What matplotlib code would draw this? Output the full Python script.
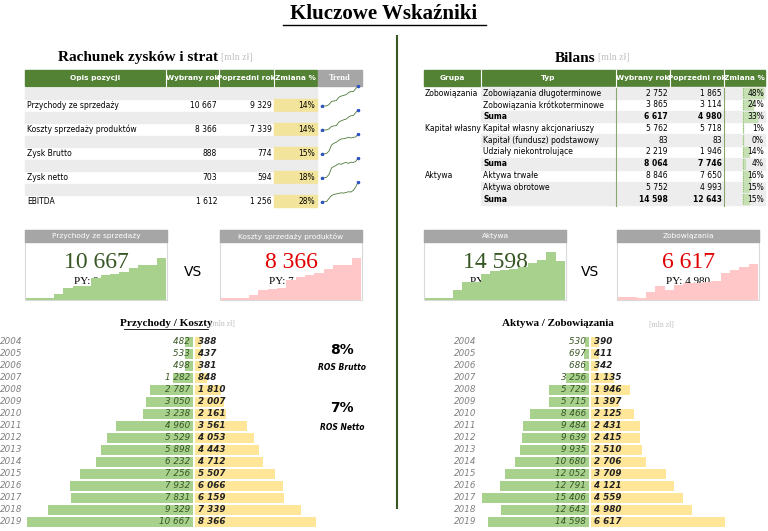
import matplotlib.pyplot as plt
from matplotlib.patches import Rectangle
import numpy as np

# ---- data ----
years = list(range(2004, 2020))
przychody = [482, 533, 498, 1282, 2787, 3050, 3238, 4960, 5529, 5898, 6232, 7256, 7932, 7831, 9329, 10667]
koszty = [388, 437, 381, 848, 1810, 2007, 2161, 3561, 4053, 4443, 4712, 5507, 6066, 6159, 7339, 8366]
aktywa = [530, 697, 686, 3256, 5729, 5715, 8466, 9484, 9639, 9935, 10680, 12052, 12791, 15406, 12643, 14598]
zobow = [390, 411, 342, 1135, 1946, 1397, 2125, 2431, 2415, 2510, 2706, 3709, 4121, 4559, 4980, 6617]
# estimated trends for sparklines
zysk_brutto = [90, 96, 117, 210, 450, 520, 560, 640, 690, 700, 720, 760, 730, 750, 774, 888]
zysk_netto = [60, 70, 85, 180, 380, 430, 470, 520, 500, 540, 560, 530, 570, 560, 594, 703]
ebitda = [150, 170, 190, 420, 620, 700, 740, 780, 820, 800, 850, 900, 880, 1000, 1256, 1612]

rzis_labels = ["Przychody ze sprzedaży", "Koszty sprzedaży produktów", "Zysk Brutto", "Zysk netto", "EBITDA"]
rzis_cur = ["10 667", "8 366", "888", "703", "1 612"]
rzis_prev = ["9 329", "7 339", "774", "594", "1 256"]
rzis_chg = [14, 14, 15, 18, 28]
rzis_trend = [przychody, koszty, zysk_brutto, zysk_netto, ebitda]

bil_group = ["Zobowiązania", "", "", "Kapitał własny", "", "", "", "Aktywa", "", ""]
bil_typ = ["Zobowiązania długoterminowe", "Zobowiązania krótkoterminowe", "Suma",
           "Kapitał własny akcjonariuszy", "Kapitał (fundusz) podstawowy", "Udziały niekontrolujące", "Suma",
           "Aktywa trwałe", "Aktywa obrotowe", "Suma"]
bil_cur = ["2 752", "3 865", "6 617", "5 762", "83", "2 219", "8 064", "8 846", "5 752", "14 598"]
bil_prev = ["1 865", "3 114", "4 980", "5 718", "83", "1 946", "7 746", "7 650", "4 993", "12 643"]
bil_chg = [48, 24, 33, 1, 0, 14, 4, 16, 15, 15]

W, H = 768, 531
fig = plt.figure(figsize=(7.68, 5.31), dpi=100)
cv = fig.add_axes([0, 0, 1, 1])
cv.set_xlim(0, W); cv.set_ylim(H, 0); cv.axis("off")

GREEN = "#548235"
SERIF = "Liberation Serif"


def ax_px(x0, y0, x1, y1):
    return fig.add_axes([x0 / W, 1 - y1 / H, (x1 - x0) / W, (y1 - y0) / H])


def txt(x, y, s, size=5.5, **kw):
    kw.setdefault("va", "center")
    cv.text(x, y, s, fontsize=size, **kw)


# title
txt(384, 14, "Kluczowe Wskaźniki", 15, ha="center", family=SERIF, weight="bold")
cv.plot([283, 486], [25, 25], color="black", lw=1)
cv.plot([397, 397], [36, 508], color="#385723", lw=1.5)

# headings
txt(218, 58, "Rachunek zysków i strat", 11, ha="right", family=SERIF, weight="bold")
txt(221, 58, "[mln zł]", 7, ha="left", family=SERIF, color="#c0c0c0")
txt(595, 58, "Bilans", 11, ha="right", family=SERIF, weight="bold")
txt(598, 58, "[mln zł]", 7, ha="left", family=SERIF, color="#c0c0c0")

# ---- RZiS table ----
cols = [25, 166, 219, 274, 317, 362]
heads = ["Opis pozycji", "Wybrany rok", "Poprzedni rok", "Zmiana %"]
cv.add_patch(Rectangle((25, 70), 292, 16, color=GREEN))
cv.add_patch(Rectangle((318, 70), 44, 16, color="#a6a6a6"))
for i, h in enumerate(heads):
    txt((cols[i] + cols[i + 1]) / 2, 78, h, 5.3, ha="center", color="white", weight="bold")
    if i > 0:
        cv.plot([cols[i], cols[i]], [70, 86], color="white", lw=0.8)
txt(340, 78, "Trend", 6, ha="center", color="white", weight="bold", family=SERIF)
for i in range(5):
    y = 105 + i * 24
    cv.add_patch(Rectangle((25, y - 17), 292, 11, color="#ececec"))
    txt(27, y, rzis_labels[i], 5.5)
    txt(217, y, rzis_cur[i], 5.5, ha="right")
    txt(272, y, rzis_prev[i], 5.5, ha="right")
    cv.add_patch(Rectangle((274, y - 6), 43, 12, color="#f3e49c"))
    txt(315, y, f"{rzis_chg[i]}%", 5.5, ha="right")
    sp = ax_px(320, y - 20, 360, y + 2)
    sp.plot(years, rzis_trend[i], color="#4d7a3a", lw=0.6)
    sp.plot([years[0], years[-1]], [rzis_trend[i][0], rzis_trend[i][-1]], "o", ms=1.6, color="#2f55c0")
    sp.axis("off")

# ---- Bilans table ----
bc = [424, 481, 616, 670, 724, 765]
bh = ["Grupa", "Typ", "Wybrany rok", "Poprzedni rok", "Zmiana %"]
cv.add_patch(Rectangle((424, 70), 341, 16, color=GREEN))
for i, h in enumerate(bh):
    txt((bc[i] + bc[i + 1]) / 2, 78, h, 5.3, ha="center", color="white", weight="bold")
    if i > 0:
        cv.plot([bc[i], bc[i]], [70, 86], color="white", lw=0.8)
for i in range(10):
    y = 93 + i * 11.8
    bold = bil_typ[i] == "Suma"
    if i % 2 == 0 or bold:
        cv.add_patch(Rectangle((481, y - 5.9), 284, 11.8, color="#ededed"))
    w = "bold" if bold else "normal"
    txt(425, y, bil_group[i], 5.5)
    txt(483, y, bil_typ[i], 5.5, weight=w)
    txt(668, y, bil_cur[i], 5.5, ha="right", weight=w)
    txt(722, y, bil_prev[i], 5.5, ha="right", weight=w)
    cv.add_patch(Rectangle((743, y - 5), 20 * bil_chg[i] / 48, 10, color="#c6e0b4"))
    cv.plot([743, 743], [y - 5, y + 5], color="#70ad47", lw=0.6, ls=":")
    txt(764, y, f"{bil_chg[i]}%", 5.5, ha="right")
cv.plot([616, 616], [88, 206], color="#8aa86e", lw=0.8)
cv.plot([724, 724], [88, 206], color="#8aa86e", lw=0.8)


# ---- KPI cards ----
def card(x0, title, big, py, series, color, fill):
    cv.add_patch(Rectangle((x0, 230), 142, 70, fill=False, ec="#d9d9d9", lw=0.8))
    cv.add_patch(Rectangle((x0, 230), 142, 12, color="#a6a6a6"))
    txt(x0 + 71, 236, title, 5.3, ha="center", color="white")
    a = ax_px(x0 + 1, 250, x0 + 141, 300)
    a.fill_between(range(len(series)), series, step="post", color=fill, lw=0)
    a.set_xlim(0, len(series) - 1); a.set_ylim(0, max(series) * 1.05)
    a.axis("off")
    txt(x0 + 71, 262, big, 17, ha="center", family=SERIF, color=color, zorder=5)
    txt(x0 + 71, 281, py, 8, ha="center", family=SERIF, zorder=5)


card(25, "Przychody ze sprzedaży", "10 667", "PY: 9 329", przychody, "#375623", "#a9d18e")
card(220, "Koszty sprzedaży produktów", "8 366", "PY: 7 339", koszty, "#e00000", "#ffc7c7")
card(424, "Aktywa", "14 598", "PY: 12 643", aktywa, "#375623", "#a9d18e")
card(617, "Zobowiązania", "6 617", "PY: 4 980", zobow, "#e00000", "#ffc7c7")
txt(193, 272, "VS", 10, ha="center")
txt(590, 272, "VS", 10, ha="center")


# ---- pyramids ----
def pyramid(xl, xc, xr, left, right, ttl, tx, ty_year_x):
    y0, y1 = 336, 528
    la = ax_px(xl, y0, xc, y1)
    ra = ax_px(xc + 2, y0, xr, y1)
    n = len(years)
    pos = np.arange(n)
    la.barh(pos, left, height=0.82, color="#a9d18e")
    ra.barh(pos, right, height=0.82, color="#ffe699")
    la.set_xlim(max(left), 0); ra.set_xlim(0, max(right))
    for a in (la, ra):
        a.set_ylim(n - 0.5, -0.5); a.axis("off")
    for i in range(n):
        la.text(0, i, f"{left[i]:,}".replace(",", " ") + " ", ha="right", va="center",
                fontsize=6.3, style="italic", color="#375623")
        ra.text(0, i, " " + f"{right[i]:,}".replace(",", " "), ha="left", va="center",
                fontsize=6.3, style="italic", weight="bold", color="#222222")
        cv.text(ty_year_x, 342 + i * 12, str(years[i]), fontsize=6.3, style="italic",
                color="#808080", ha="right", va="center")
    txt(tx, 323, ttl, 8, ha="center", family=SERIF, weight="bold")


pyramid(27, 193, 316, przychody, koszty, "Przychody / Koszty", 166, 22)
txt(210, 324, "[mln zł]", 5.5, family=SERIF, color="#c0c0c0")
cv.plot([124, 208], [329, 329], color="black", lw=0.6)
pyramid(482, 589, 725, aktywa, zobow, "Aktywa / Zobowiązania", 558, 476)
txt(649, 325, "[mln zł]", 5.5, family=SERIF, color="#c0c0c0")

txt(342, 350, "8%", 10, ha="center", weight="bold")
txt(342, 367, "ROS Brutto", 5.5, ha="center", style="italic", weight="bold")
txt(342, 408, "7%", 10, ha="center", weight="bold")
txt(342, 427, "ROS Netto", 5.5, ha="center", style="italic", weight="bold")

fig.savefig("out.png", dpi=100)
